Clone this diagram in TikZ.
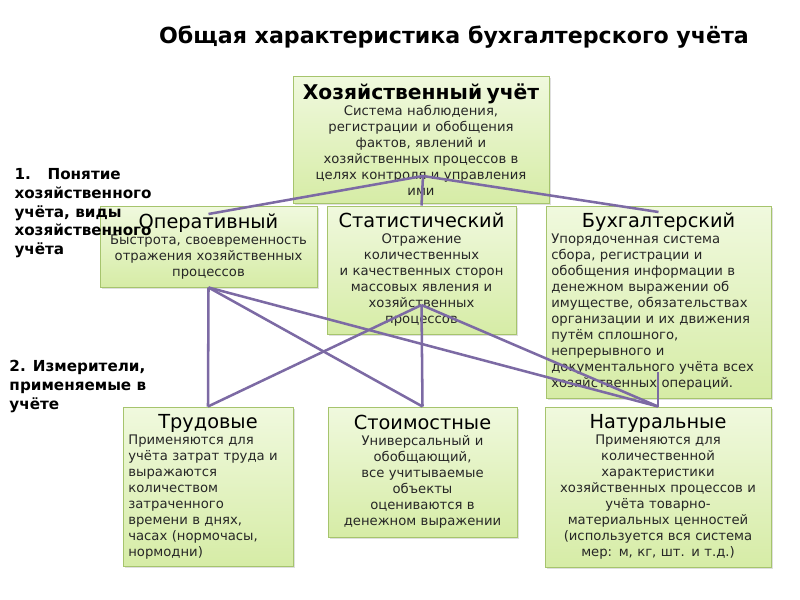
\documentclass[tikz,border=0pt]{standalone}
\usepackage{fontspec}
\setmainfont{DejaVu Sans}
\usepackage{tikz}
\usetikzlibrary{positioning,shadows}
\tikzset{every picture/.style={line width=0.75pt}}
\definecolor{boxline}{RGB}{166,196,109}
\definecolor{boxtop}{RGB}{240,249,222}
\definecolor{boxbot}{RGB}{214,236,166}
\definecolor{link}{RGB}{124,106,164}
\tikzset{
  box/.style={draw=boxline, top color=boxtop, bottom color=boxbot, inner sep=4pt,
    drop shadow={opacity=0.25, shadow xshift=1.5pt, shadow yshift=-1.5pt},
    font=\fontsize{9.9}{12}\selectfont, text=black!85},
  link/.style={draw=link, line width=1.9pt},
  side/.style={anchor=north west, align=left, inner sep=0pt, font=\fontsize{11.4}{14.1}\selectfont\bfseries}
}
\newcommand{\boxhead}[1]{{\fontsize{14.5}{17.5}\selectfont\color{black}#1}}
\newcommand{\midhead}[1]{\makebox[\linewidth][c]{\boxhead{#1}}}

\begin{document}
\begin{tikzpicture}[x=0.75pt,y=-0.75pt]
\useasboundingbox (0,0) rectangle (800,600);
\node (title) at (454,37) {\fontsize{16.6}{19}\selectfont\bfseries Общая характеристика бухгалтерского учёта};
%
\node[box, minimum width=192pt, minimum height=95.25pt, text width=184pt, align=center] (hoz) at (421,139.5)
  {{\fontsize{15.2}{17.5}\selectfont\bfseries\color{black}Хозяйственный учёт}\\
   Система наблюдения,\\ регистрации и обобщения\\ фактов, явлений и\\ хозяйственных процессов в\\ целях контроля и управления\\ ими};
\node[box, minimum width=162.75pt, minimum height=60.75pt, text width=154.75pt, align=center] (oper) at (208.5,246.5)
  {\boxhead{Оперативный}\\ Быстрота, своевременность\\ отражения хозяйственных\\ процессов};
\node[box, minimum width=141.75pt, minimum height=96pt, text width=133.75pt, align=center] (stat) at (421.5,270)
  {\boxhead{Статистический}\\ Отражение\\ количественных\\ и качественных сторон\\ массовых явления и\\ хозяйственных\\ процессов};
\node[box, minimum width=168.75pt, minimum height=144pt, text width=160.75pt, align=left] (buh) at (658.5,302)
  {\midhead{Бухгалтерский}\\ Упорядоченная система\\ сбора, регистрации и\\ обобщения информации в\\ денежном выражении об\\ имуществе, обязательствах\\ организации и их движения\\ путём сплошного,\\ непрерывного и\\ документального учёта всех\\ хозяйственных операций.};
%
\node[box, minimum width=127.5pt, minimum height=119.25pt, text width=119.5pt, align=left] (trud) at (208,486.5)
  {\midhead{Трудовые}\\ Применяются для\\ учёта затрат труда и\\ выражаются\\ количеством\\ затраченного\\ времени в днях,\\ часах (нормочасы,\\ нормодни)};
\node[box, minimum width=141.75pt, minimum height=97.5pt, text width=133.75pt, align=center] (stoim) at (422.5,472)
  {\boxhead{Стоимостные}\\ Универсальный и\\ обобщающий,\\ все учитываемые\\ объекты\\ оцениваются в\\ денежном выражении};
\node[box, minimum width=169.5pt, minimum height=120pt, text width=161.5pt, align=center] (nat) at (658,487)
  {\boxhead{Натуральные}\\ Применяются для\\ количественной\\ характеристики\\ хозяйственных процессов и\\ учёта товарно-\\ материальных ценностей\\ (используется вся система\\ мер: м, кг, шт. и т.д.)};
%
\coordinate (hozA) at (423,176);
\coordinate (operT) at (208.5,214);
\coordinate (buhT) at (658.5,212);
\coordinate (statA) at (421.5,305);
\coordinate (buhB) at (658,372);
\draw[link] (operT) -- (hozA) -- (buhT);
\draw[link] (hozA) -- (stat.north);
\draw[link] (oper.south) -- (trud.north);
\draw[link] (oper.south) -- (stoim.north);
\draw[link] (oper.south) -- (nat.north);
\draw[link] (statA) -- (trud.north);
\draw[link] (statA) -- (stoim.north);
\draw[link] (statA) -- (nat.north);
\draw[link] (buhB) -- (nat.north);
%
\node[side] (q1) at (14,168) {1.\hspace{1.1em}Понятие\\ хозяйственного\\ учёта, виды\\ хозяйственного\\ учёта};
\node[side] (q2) at (9,360) {2. Измерители,\\ применяемые в\\ учёте};
\end{tikzpicture}
\end{document}
